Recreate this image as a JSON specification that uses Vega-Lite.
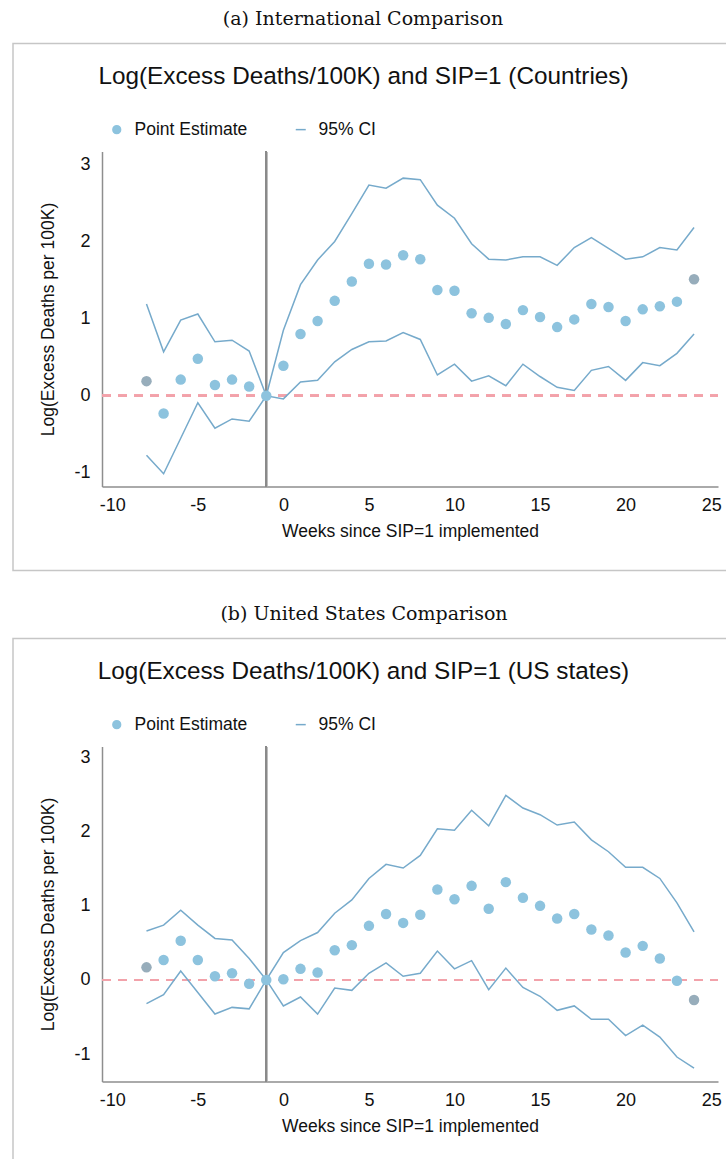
{
  "$schema": "https://vega.github.io/schema/vega-lite/v6.json",
  "padding": {"left": 12, "top": 9.5, "right": 0, "bottom": 0},
  "spacing": 33,
  "resolve": {"scale": {"x": "independent", "y": "independent", "color": "independent"}, "legend": {"color": "independent"}, "axis": {"x": "independent", "y": "independent"}},
  "datasets": {
    "intl": [
      {"week": -8, "est": 0.19, "lo": -0.77, "hi": 1.19},
      {"week": -7, "est": -0.23, "lo": -1.01, "hi": 0.57},
      {"week": -6, "est": 0.21, "lo": -0.55, "hi": 0.98},
      {"week": -5, "est": 0.48, "lo": -0.09, "hi": 1.06},
      {"week": -4, "est": 0.14, "lo": -0.42, "hi": 0.70},
      {"week": -3, "est": 0.21, "lo": -0.30, "hi": 0.72},
      {"week": -2, "est": 0.12, "lo": -0.33, "hi": 0.58},
      {"week": -1, "est": 0, "lo": 0, "hi": 0},
      {"week": 0, "est": 0.39, "lo": -0.04, "hi": 0.85},
      {"week": 1, "est": 0.80, "lo": 0.18, "hi": 1.44},
      {"week": 2, "est": 0.97, "lo": 0.20, "hi": 1.76},
      {"week": 3, "est": 1.23, "lo": 0.44, "hi": 2.00},
      {"week": 4, "est": 1.48, "lo": 0.60, "hi": 2.36},
      {"week": 5, "est": 1.71, "lo": 0.70, "hi": 2.73},
      {"week": 6, "est": 1.70, "lo": 0.71, "hi": 2.69},
      {"week": 7, "est": 1.82, "lo": 0.82, "hi": 2.82},
      {"week": 8, "est": 1.77, "lo": 0.73, "hi": 2.80},
      {"week": 9, "est": 1.37, "lo": 0.27, "hi": 2.47},
      {"week": 10, "est": 1.36, "lo": 0.41, "hi": 2.30},
      {"week": 11, "est": 1.07, "lo": 0.19, "hi": 1.97},
      {"week": 12, "est": 1.01, "lo": 0.26, "hi": 1.77},
      {"week": 13, "est": 0.93, "lo": 0.13, "hi": 1.76},
      {"week": 14, "est": 1.11, "lo": 0.41, "hi": 1.80},
      {"week": 15, "est": 1.02, "lo": 0.25, "hi": 1.80},
      {"week": 16, "est": 0.89, "lo": 0.11, "hi": 1.69},
      {"week": 17, "est": 0.99, "lo": 0.07, "hi": 1.92},
      {"week": 18, "est": 1.19, "lo": 0.33, "hi": 2.05},
      {"week": 19, "est": 1.15, "lo": 0.38, "hi": 1.91},
      {"week": 20, "est": 0.97, "lo": 0.20, "hi": 1.77},
      {"week": 21, "est": 1.12, "lo": 0.43, "hi": 1.80},
      {"week": 22, "est": 1.16, "lo": 0.39, "hi": 1.92},
      {"week": 23, "est": 1.22, "lo": 0.55, "hi": 1.89},
      {"week": 24, "est": 1.51, "lo": 0.80, "hi": 2.18}
    ],
    "us": [
      {"week": -8, "est": 0.17, "lo": -0.32, "hi": 0.66},
      {"week": -7, "est": 0.27, "lo": -0.20, "hi": 0.74},
      {"week": -6, "est": 0.53, "lo": 0.12, "hi": 0.94},
      {"week": -5, "est": 0.27, "lo": -0.17, "hi": 0.74},
      {"week": -4, "est": 0.05, "lo": -0.46, "hi": 0.56},
      {"week": -3, "est": 0.09, "lo": -0.37, "hi": 0.54},
      {"week": -2, "est": -0.05, "lo": -0.39, "hi": 0.29},
      {"week": -1, "est": 0, "lo": 0, "hi": 0},
      {"week": 0, "est": 0.01, "lo": -0.35, "hi": 0.37},
      {"week": 1, "est": 0.15, "lo": -0.23, "hi": 0.53},
      {"week": 2, "est": 0.10, "lo": -0.46, "hi": 0.64},
      {"week": 3, "est": 0.40, "lo": -0.11, "hi": 0.90},
      {"week": 4, "est": 0.47, "lo": -0.14, "hi": 1.08},
      {"week": 5, "est": 0.73, "lo": 0.09, "hi": 1.37},
      {"week": 6, "est": 0.89, "lo": 0.23, "hi": 1.56},
      {"week": 7, "est": 0.77, "lo": 0.05, "hi": 1.51},
      {"week": 8, "est": 0.88, "lo": 0.09, "hi": 1.68},
      {"week": 9, "est": 1.22, "lo": 0.39, "hi": 2.04},
      {"week": 10, "est": 1.09, "lo": 0.15, "hi": 2.02},
      {"week": 11, "est": 1.27, "lo": 0.26, "hi": 2.29},
      {"week": 12, "est": 0.96, "lo": -0.13, "hi": 2.08},
      {"week": 13, "est": 1.32, "lo": 0.16, "hi": 2.49},
      {"week": 14, "est": 1.11, "lo": -0.10, "hi": 2.32},
      {"week": 15, "est": 1.00, "lo": -0.22, "hi": 2.23},
      {"week": 16, "est": 0.83, "lo": -0.41, "hi": 2.09},
      {"week": 17, "est": 0.89, "lo": -0.35, "hi": 2.13},
      {"week": 18, "est": 0.68, "lo": -0.53, "hi": 1.89},
      {"week": 19, "est": 0.60, "lo": -0.53, "hi": 1.73},
      {"week": 20, "est": 0.37, "lo": -0.75, "hi": 1.52},
      {"week": 21, "est": 0.46, "lo": -0.61, "hi": 1.52},
      {"week": 22, "est": 0.29, "lo": -0.77, "hi": 1.37},
      {"week": 23, "est": -0.01, "lo": -1.04, "hi": 1.04},
      {"week": 24, "est": -0.27, "lo": -1.19, "hi": 0.65}
    ]
  },
  "vconcat": [
    {
      "title": {"text": "(a) International Comparison", "font": "DejaVu Serif", "fontSize": 19, "fontWeight": "normal", "anchor": "middle", "frame": "bounds", "baseline": "middle", "offset": 5, "dx": -10, "color": "#111111"},
      "resolve": {"scale": {"x": "independent", "y": "independent", "color": "independent"}, "legend": {"color": "independent"}},
      "vconcat": [
        {
          "title": {"text": "Log(Excess Deaths/100K) and SIP=1 (Countries)", "font": "Liberation Sans", "fontSize": 24.3, "fontWeight": "normal", "anchor": "middle", "frame": "group", "baseline": "middle", "offset": -58, "dx": -9.5, "color": "#111111"},
          "width": 720,
          "height": 527,
          "data": {"name": "intl"},
          "layer": [
            {
              "mark": {"type": "rule", "color": "#f2a2aa", "strokeDash": [9, 7], "strokeWidth": 2},
              "encoding": {
                "x": {"datum": -10.6, "type": "quantitative", "scale": {"domain": [-10.6, 25.4], "range": [89, 705], "nice": false, "zero": false}, "axis": {"orient": "bottom", "offset": -84, "values": [-10, -5, 0, 5, 10, 15, 20, 25], "labelExpr": "'' + datum.value", "labelPadding": 10, "titlePadding": 8, "title": "Weeks since SIP=1 implemented"}},
                "x2": {"datum": 25.4},
                "y": {"datum": 0, "type": "quantitative", "scale": {"domain": [-1.175, 3.165], "range": [443, 108], "nice": false, "zero": false}, "axis": {"orient": "left", "offset": -89, "values": [-1, 0, 1, 2, 3], "labelExpr": "'' + datum.value", "labelPadding": 12, "titlePadding": 16, "title": "Log(Excess Deaths per 100K)"}}
              }
            },
            {
              "mark": {"type": "rule", "color": "#8a8a8a", "strokeWidth": 1.5},
              "encoding": {
                "x": {"datum": -1, "type": "quantitative"},
                "y": {"datum": -1.175, "type": "quantitative"},
                "y2": {"datum": 3.165}
              }
            },
            {
              "mark": {"type": "line", "strokeWidth": 1.5},
              "encoding": {
                "x": {"field": "week", "type": "quantitative"},
                "y": {"field": "lo", "type": "quantitative"},
                "color": {"datum": "95% CI", "type": "nominal",
                  "legend": {"title": null, "orient": "none", "legendX": 95, "legendY": 77, "direction": "horizontal", "padding": 0, "symbolSize": 100, "labelOffset": 9, "columnPadding": 44, "labelFontSize": 17.5, "labelFont": "Liberation Sans", "labelColor": "#111111",
                    "encode": {"symbols": {"update": {
                      "shape": {"signal": "datum.value === '95% CI' ? 'stroke' : 'circle'"},
                      "size": {"signal": "datum.value === '95% CI' ? 100 : 60"},
                      "fill": {"signal": "datum.value === '95% CI' ? 'transparent' : '#8dc3de'"},
                      "stroke": {"signal": "datum.value === '95% CI' ? '#76aacb' : 'transparent'"},
                      "strokeWidth": {"value": 1.5},
                      "opacity": {"value": 1}
                    }}}
                  }}
              }
            },
            {
              "mark": {"type": "line", "strokeWidth": 1.5},
              "encoding": {
                "x": {"field": "week", "type": "quantitative"},
                "y": {"field": "hi", "type": "quantitative"},
                "color": {"datum": "95% CI", "type": "nominal",
                  "legend": {"title": null, "orient": "none", "legendX": 95, "legendY": 77, "direction": "horizontal", "padding": 0, "symbolSize": 100, "labelOffset": 9, "columnPadding": 44, "labelFontSize": 17.5, "labelFont": "Liberation Sans", "labelColor": "#111111",
                    "encode": {"symbols": {"update": {
                      "shape": {"signal": "datum.value === '95% CI' ? 'stroke' : 'circle'"},
                      "size": {"signal": "datum.value === '95% CI' ? 100 : 60"},
                      "fill": {"signal": "datum.value === '95% CI' ? 'transparent' : '#8dc3de'"},
                      "stroke": {"signal": "datum.value === '95% CI' ? '#76aacb' : 'transparent'"},
                      "strokeWidth": {"value": 1.5},
                      "opacity": {"value": 1}
                    }}}
                  }}
              }
            },
            {
              "mark": {"type": "point", "filled": true, "size": 110, "opacity": 1},
              "encoding": {
                "x": {"field": "week", "type": "quantitative"},
                "y": {"field": "est", "type": "quantitative"},
                "color": {
                  "datum": "Point Estimate", "type": "nominal",
                  "scale": {"domain": ["Point Estimate", "95% CI"], "range": ["#8dc3de", "#76aacb"]},
                  "legend": {"title": null, "orient": "none", "legendX": 95, "legendY": 77, "direction": "horizontal", "padding": 0, "symbolSize": 100, "labelOffset": 9, "columnPadding": 44, "labelFontSize": 17.5, "labelFont": "Liberation Sans", "labelColor": "#111111",
                    "encode": {"symbols": {"update": {
                      "shape": {"signal": "datum.value === '95% CI' ? 'stroke' : 'circle'"},
                      "size": {"signal": "datum.value === '95% CI' ? 100 : 60"},
                      "fill": {"signal": "datum.value === '95% CI' ? 'transparent' : '#8dc3de'"},
                      "stroke": {"signal": "datum.value === '95% CI' ? '#76aacb' : 'transparent'"},
                      "strokeWidth": {"value": 1.5},
                      "opacity": {"value": 1}
                    }}}
                  },
                  "condition": {"test": "datum.week === -8 || datum.week === 24", "value": "#97adbb"}
                }
              }
            }
          ]
        }
      ]
    },
    {
      "title": {"text": "(b) United States Comparison", "font": "DejaVu Serif", "fontSize": 19, "fontWeight": "normal", "anchor": "middle", "frame": "bounds", "baseline": "middle", "offset": 5, "dx": -9, "color": "#111111"},
      "resolve": {"scale": {"x": "independent", "y": "independent", "color": "independent"}, "legend": {"color": "independent"}},
      "vconcat": [
        {
          "title": {"text": "Log(Excess Deaths/100K) and SIP=1 (US states)", "font": "Liberation Sans", "fontSize": 24.3, "fontWeight": "normal", "anchor": "middle", "frame": "group", "baseline": "middle", "offset": -58, "dx": -9.5, "color": "#111111"},
          "width": 720,
          "height": 527,
          "data": {"name": "us"},
          "layer": [
            {
              "mark": {"type": "rule", "color": "#f2a2aa", "strokeDash": [9, 7], "strokeWidth": 2},
              "encoding": {
                "x": {"datum": -10.6, "type": "quantitative", "scale": {"domain": [-10.6, 25.4], "range": [89, 705], "nice": false, "zero": false}, "axis": {"orient": "bottom", "offset": -84, "values": [-10, -5, 0, 5, 10, 15, 20, 25], "labelExpr": "'' + datum.value", "labelPadding": 10, "titlePadding": 8, "title": "Weeks since SIP=1 implemented"}},
                "x2": {"datum": 25.4},
                "y": {"datum": 0, "type": "quantitative", "scale": {"domain": [-1.37, 3.15], "range": [443, 108], "nice": false, "zero": false}, "axis": {"orient": "left", "offset": -89, "values": [-1, 0, 1, 2, 3], "labelExpr": "'' + datum.value", "labelPadding": 12, "titlePadding": 16, "title": "Log(Excess Deaths per 100K)"}}
              }
            },
            {
              "mark": {"type": "rule", "color": "#8a8a8a", "strokeWidth": 1.5},
              "encoding": {
                "x": {"datum": -1, "type": "quantitative"},
                "y": {"datum": -1.37, "type": "quantitative"},
                "y2": {"datum": 3.15}
              }
            },
            {
              "mark": {"type": "line", "strokeWidth": 1.5},
              "encoding": {
                "x": {"field": "week", "type": "quantitative"},
                "y": {"field": "lo", "type": "quantitative"},
                "color": {"datum": "95% CI", "type": "nominal",
                  "legend": {"title": null, "orient": "none", "legendX": 95, "legendY": 77, "direction": "horizontal", "padding": 0, "symbolSize": 100, "labelOffset": 9, "columnPadding": 44, "labelFontSize": 17.5, "labelFont": "Liberation Sans", "labelColor": "#111111",
                    "encode": {"symbols": {"update": {
                      "shape": {"signal": "datum.value === '95% CI' ? 'stroke' : 'circle'"},
                      "size": {"signal": "datum.value === '95% CI' ? 100 : 60"},
                      "fill": {"signal": "datum.value === '95% CI' ? 'transparent' : '#8dc3de'"},
                      "stroke": {"signal": "datum.value === '95% CI' ? '#76aacb' : 'transparent'"},
                      "strokeWidth": {"value": 1.5},
                      "opacity": {"value": 1}
                    }}}
                  }}
              }
            },
            {
              "mark": {"type": "line", "strokeWidth": 1.5},
              "encoding": {
                "x": {"field": "week", "type": "quantitative"},
                "y": {"field": "hi", "type": "quantitative"},
                "color": {"datum": "95% CI", "type": "nominal",
                  "legend": {"title": null, "orient": "none", "legendX": 95, "legendY": 77, "direction": "horizontal", "padding": 0, "symbolSize": 100, "labelOffset": 9, "columnPadding": 44, "labelFontSize": 17.5, "labelFont": "Liberation Sans", "labelColor": "#111111",
                    "encode": {"symbols": {"update": {
                      "shape": {"signal": "datum.value === '95% CI' ? 'stroke' : 'circle'"},
                      "size": {"signal": "datum.value === '95% CI' ? 100 : 60"},
                      "fill": {"signal": "datum.value === '95% CI' ? 'transparent' : '#8dc3de'"},
                      "stroke": {"signal": "datum.value === '95% CI' ? '#76aacb' : 'transparent'"},
                      "strokeWidth": {"value": 1.5},
                      "opacity": {"value": 1}
                    }}}
                  }}
              }
            },
            {
              "mark": {"type": "point", "filled": true, "size": 110, "opacity": 1},
              "encoding": {
                "x": {"field": "week", "type": "quantitative"},
                "y": {"field": "est", "type": "quantitative"},
                "color": {
                  "datum": "Point Estimate", "type": "nominal",
                  "scale": {"domain": ["Point Estimate", "95% CI"], "range": ["#8dc3de", "#76aacb"]},
                  "legend": {"title": null, "orient": "none", "legendX": 95, "legendY": 77, "direction": "horizontal", "padding": 0, "symbolSize": 100, "labelOffset": 9, "columnPadding": 44, "labelFontSize": 17.5, "labelFont": "Liberation Sans", "labelColor": "#111111",
                    "encode": {"symbols": {"update": {
                      "shape": {"signal": "datum.value === '95% CI' ? 'stroke' : 'circle'"},
                      "size": {"signal": "datum.value === '95% CI' ? 100 : 60"},
                      "fill": {"signal": "datum.value === '95% CI' ? 'transparent' : '#8dc3de'"},
                      "stroke": {"signal": "datum.value === '95% CI' ? '#76aacb' : 'transparent'"},
                      "strokeWidth": {"value": 1.5},
                      "opacity": {"value": 1}
                    }}}
                  },
                  "condition": {"test": "datum.week === -8 || datum.week === 24", "value": "#97adbb"}
                }
              }
            }
          ]
        }
      ]
    }
  ],
  "config": {
    "font": "Liberation Sans",
    "view": {"stroke": "#c6c6c6", "strokeWidth": 1.5},
    "axis": {"ticks": false, "tickSize": 0, "grid": false, "domainColor": "#8e8e8e", "domainWidth": 1.5, "labelFont": "Liberation Sans", "labelFontSize": 18, "labelColor": "#111111", "titleFont": "Liberation Sans", "titleFontSize": 17.5, "titleFontWeight": "normal", "titleColor": "#111111"}
  }
}
